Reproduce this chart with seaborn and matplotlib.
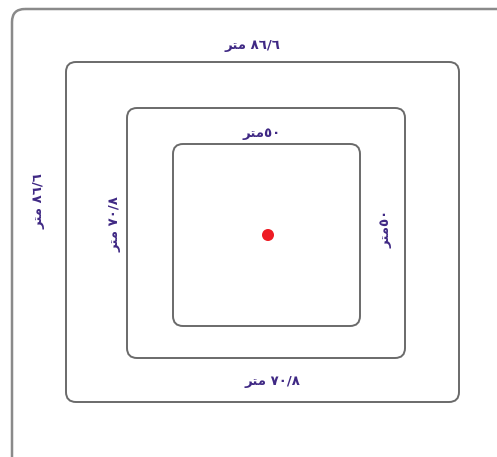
import matplotlib
matplotlib.use("Agg")
import matplotlib.pyplot as plt
from matplotlib.patches import FancyBboxPatch
import seaborn as sns

sns.set_theme(style="white")
plt.rcParams["font.family"] = ["DejaVu Sans"]

# side lengths (label text, visual order for matplotlib: shaped Arabic forms)
METER = "\uFEAE\uFE98\uFEE3"          # "متر" shaped, left-to-right visual order
side_outer = "\u0668\u0666/\u0666"     # ۸۶/۶
side_middle = "\u0667\u0660/\u0668"    # ۷۰/۸
side_inner = "\u0665\u0660"            # ۵۰

# squares in pixel layout: left, top, right, bottom
squares = {
    "outer":  (66, 62, 459, 402),
    "middle": (127, 108, 405, 358),
    "inner":  (173, 144, 360, 326),
}
center_x = [268]
center_y = [235]

TEXT_COLOR = "#3f2884"
LINE_COLOR = "#6a6a6a"

fig = plt.figure(figsize=(4.97, 4.57), dpi=100)
ax = fig.add_axes([0, 0, 1, 1])
ax.set_xlim(0, 497)
ax.set_ylim(457, 0)
ax.axis("off")

# page frame
ax.add_patch(FancyBboxPatch((12, 9), 600, 560,
                            boxstyle="round,pad=0,rounding_size=13",
                            fill=False, edgecolor="#8a8a8a", linewidth=1.8))

for name, (l, t, r, b) in squares.items():
    ax.add_patch(FancyBboxPatch((l, t), r - l, b - t,
                                boxstyle="round,pad=0,rounding_size=10",
                                fill=False, edgecolor=LINE_COLOR, linewidth=1.4))

sns.scatterplot(x=center_x, y=center_y, ax=ax, color="#ee1c24", s=75,
                edgecolor="none", legend=False)

kw = dict(color=TEXT_COLOR, fontsize=9.5, fontweight="bold", ha="center", va="center")
ax.text(252, 46, METER + " " + side_outer, **kw)
ax.text(262, 134, METER + side_inner, **kw)
ax.text(272, 381, METER + " " + side_middle, **kw)
ax.text(39, 201, METER + " " + side_outer, rotation=90, **kw)
ax.text(115, 224, METER + " " + side_middle, rotation=90, **kw)
ax.text(386, 229, METER + side_inner, rotation=90, **kw)

fig.savefig("out.png", dpi=100)
